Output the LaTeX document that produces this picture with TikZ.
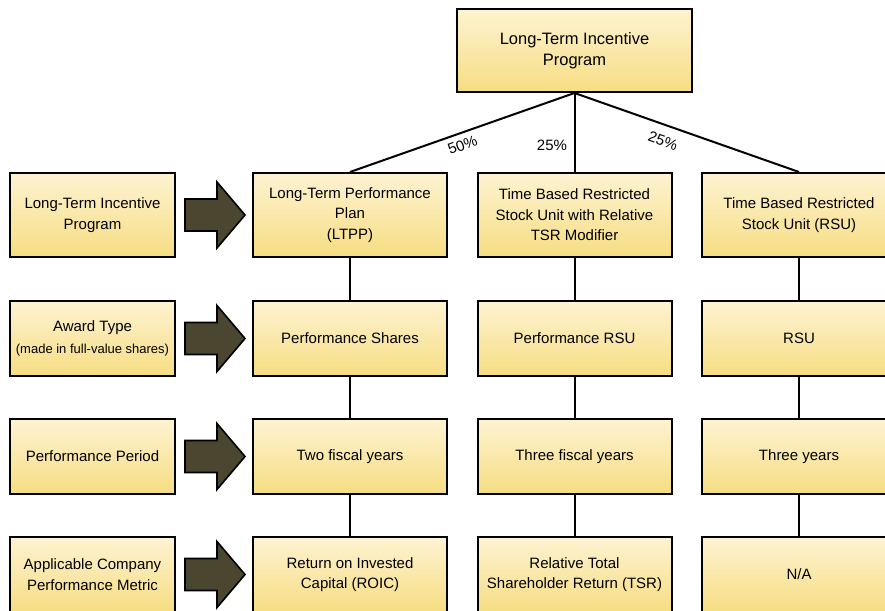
\documentclass[tikz,border=0pt]{standalone}
\usepackage{fontspec}
\setmainfont{Liberation Sans}
\definecolor{boxtop}{HTML}{FEF3D2}
\definecolor{boxbot}{HTML}{F6DD82}
\definecolor{arrowfill}{HTML}{4A4630}
\begin{document}
\begin{tikzpicture}[x=1pt,y=-1pt,
  box/.style={draw=black, line width=2pt, top color=boxtop, bottom color=boxbot,
    align=center, inner sep=0pt, font=\fontsize{15}{20.5}\selectfont},
  leftbox/.style={box, minimum width=165pt},
  colbox/.style={box, minimum width=194pt},
  rowA/.style={minimum height=84pt},
  rowB/.style={minimum height=75pt},
  conn/.style={draw=black, line width=2pt},
  pct/.style={font=\fontsize{15}{18}\selectfont, inner sep=0pt},
  bigarrow/.style={draw=black, line width=1.6pt, fill=arrowfill, line join=miter}]
\useasboundingbox (0,0) rectangle (885,610);

\node[box, minimum width=235pt, minimum height=83pt, font=\fontsize{16.5}{21}\selectfont] (top) at (574.5,50.5) {Long-Term Incentive\\Program};

% left column
\node[leftbox, rowA] (l1) at (92.5,215) {Long-Term Incentive\\Program};
\node[leftbox, rowB] (l2) at (92.5,338.5) {Award Type\\[1pt]{\fontsize{13}{16}\selectfont (made in full-value shares)}};
\node[leftbox, rowB] (l3) at (92.5,456.5) {Performance Period};
\node[leftbox, rowB] (l4) at (92.5,574.5) {Applicable Company\\Performance Metric};

% column 1
\node[colbox, rowA] (a1) at (350,215) {Long-Term Performance\\Plan\\(LTPP)};
\node[colbox, rowB] (a2) at (350,338.5) {Performance Shares};
\node[colbox, rowB] (a3) at (350,456.5) {Two fiscal years};
\node[colbox, rowB] (a4) at (350,574.5) {Return on Invested\\Capital (ROIC)};

% column 2
\node[colbox, rowA] (b1) at (574.5,215) {Time Based Restricted\\Stock Unit with Relative\\TSR Modifier};
\node[colbox, rowB] (b2) at (574.5,338.5) {Performance RSU};
\node[colbox, rowB] (b3) at (574.5,456.5) {Three fiscal years};
\node[colbox, rowB] (b4) at (574.5,574.5) {Relative Total\\Shareholder Return (TSR)};

% column 3
\node[colbox, rowA] (c1) at (799,215) {Time Based Restricted\\Stock Unit (RSU)};
\node[colbox, rowB] (c2) at (799,338.5) {RSU};
\node[colbox, rowB] (c3) at (799,456.5) {Three years};
\node[colbox, rowB] (c4) at (799,574.5) {N/A};

% connectors from top
\draw[conn] (top.south) -- (a1.north);
\draw[conn] (top.south) -- (b1.north);
\draw[conn] (top.south) -- (c1.north);
\node[pct, rotate=20] (p1) at (462.5,145) {50\%};
\node[pct] (p2) at (552,145) {25\%};
\node[pct, rotate=-20] (p3) at (663,141) {25\%};

% vertical connectors
\draw[conn] (a1) -- (a2); \draw[conn] (a2) -- (a3); \draw[conn] (a3) -- (a4);
\draw[conn] (b1) -- (b2); \draw[conn] (b2) -- (b3); \draw[conn] (b3) -- (b4);
\draw[conn] (c1) -- (c2); \draw[conn] (c2) -- (c3); \draw[conn] (c3) -- (c4);

% block arrows
\foreach \yy in {215,338.5,456.5,574.5}{
  \draw[bigarrow] (185,{\yy-16}) -- (217,{\yy-16}) -- (217,{\yy-33}) -- (245,\yy)
     -- (217,{\yy+33}) -- (217,{\yy+16}) -- (185,{\yy+16}) -- cycle;
}
\end{tikzpicture}
\end{document}
